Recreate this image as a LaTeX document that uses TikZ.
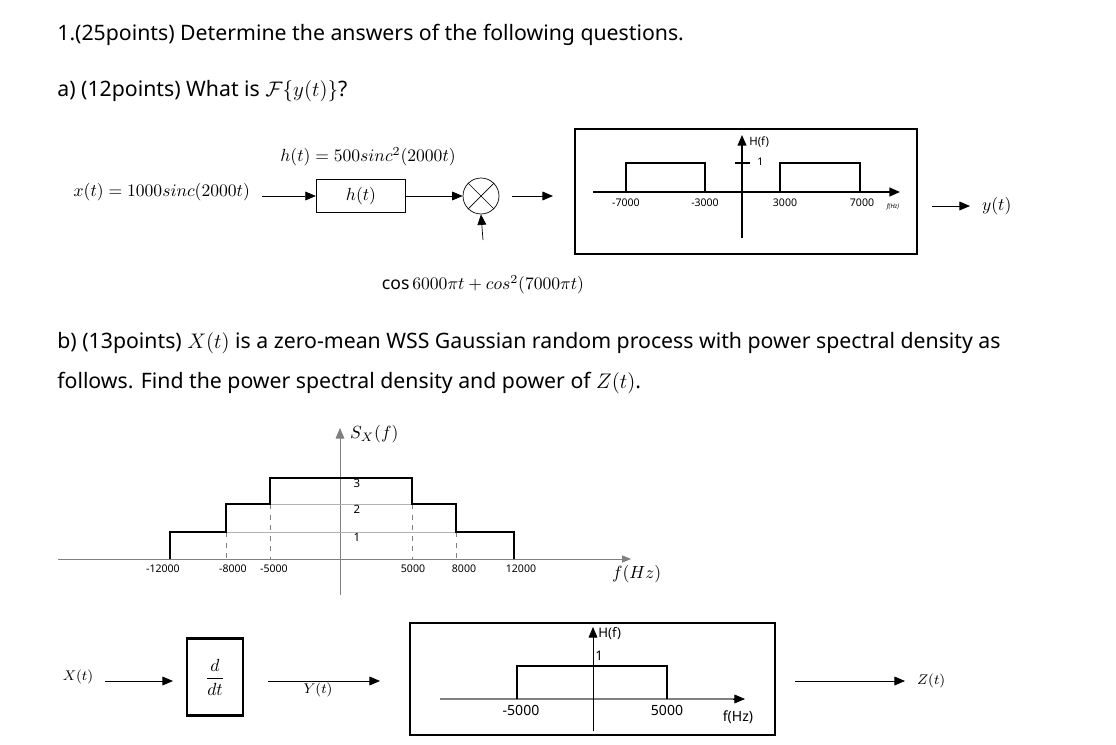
\documentclass[tikz,border=0pt]{standalone}
\usepackage{fontspec}
\usepackage{amsmath}
\setmainfont{Noto Sans}
\usetikzlibrary{arrows.meta}
\begin{document}
\begin{tikzpicture}[x=0.02cm,y=-0.02cm,
  txt/.style = {anchor=west, inner sep=0pt, font=\fontsize{12.1}{15}\selectfont},
  lbl/.style = {inner sep=0pt, font=\fontsize{6}{7}\selectfont},
  sig/.style = {inner sep=1pt, font=\fontsize{10}{12}\selectfont},
  flow/.style = {draw, -{Triangle[length=6pt,width=5pt]}},
  frame/.style = {draw, line width=0.9pt},
  >={Triangle[length=6pt,width=5pt]},
]
  \useasboundingbox (0,0) rectangle (1116,744);

  % questions
  \node[txt] (q1) at (57,35) {1.(25points) Determine the answers of the following questions.};
  \node[txt] (qa) at (57,91) {a) (12points) What is $\mathcal{F}\{y(t)\}$?};
  \node[txt] (qb1) at (57,343) {b) (13points) $X(t)$ is a zero-mean WSS Gaussian random process with power spectral density as};
  \node[txt] (qb2) at (57,383) {follows. Find the power spectral density and power of $Z(t)$.};

  % part a: system
  \node[sig, anchor=east] (xin) at (252,192) {$x(t)=1000sinc(2000t)$};
  \node[draw, line width=0.8pt, minimum width=1.78cm, minimum height=0.66cm, sig] (hbox) at (361,196) {$h(t)$};
  \node[sig] (hdef) at (368,157) {$h(t)=500sinc^2(2000t)$};
  \node[draw, circle, minimum size=0.72cm, inner sep=0pt] (mix) at (481,196) {};
  \draw (mix.north west) -- (mix.south east) (mix.north east) -- (mix.south west);
  \coordinate (a0) at (262,196);
  \coordinate (a1) at (512,196);
  \coordinate (a2) at (553,196);
  \coordinate (c0) at (483,240);
  \node[sig] (cosin) at (483,285) {$\cos6000\pi t+cos^2(7000\pi t)$};
  \draw[flow] (a0) -- (hbox.west);
  \draw[flow] (hbox.east) -- (mix.west);
  \draw[flow] (a1) -- (a2);
  \draw[flow] (c0) -- (mix.south);

  % filter H(f), part a
  \draw[frame] (575,129) rectangle (917,254);
  \draw[->, line width=0.9pt] (593,192) -- (900,192);
  \draw[->, line width=0.8pt] (742,238) -- (742,135);
  \draw[line width=0.8pt] (626,192) |- (705,163) -- (705,192);
  \draw[line width=0.8pt] (780,192) |- (860,163) -- (860,192);
  \draw[line width=1.2pt] (735,163) -- (750,163);
  \node[lbl, anchor=west] (h1) at (757,162) {1};
  \node[lbl, anchor=west, font=\fontsize{6.5}{7}\selectfont\bfseries] (hf1) at (749,142) {H(f)};
  \foreach \xx/\tt in {626/-7000, 705/-3000, 785/3000, 862/7000}
    \node[lbl] at (\xx,203) {\tt};
  \node[lbl, font=\fontsize{3.5}{4}\selectfont\itshape] (fhz1) at (893,207) {f(Hz)};
  \coordinate (b0) at (932,206);
  \coordinate (b1) at (970,206);
  \draw[flow] (b0) -- (b1);
  \node[sig, anchor=west] (yout) at (980,206) {$y(t)$};

  % part b: S_X(f)
  \draw[gray] (58,559) -- (620,559);
  \draw[gray, -{Triangle[length=5pt,width=4pt]}] (620,559) -- (631,559);
  \draw[gray, ->] (340,595) -- (340,428);
  \draw[gray!60] (226,532) -- (456,532) (270,504) -- (412,504);
  \draw[gray, dashed] (226,532) -- (226,559) (270,504) -- (270,559)
                      (412,504) -- (412,559) (456,532) -- (456,559);
  \draw[line width=0.8pt] (170,559) |- (226,532) |- (270,504) |- (412,478)
                          |- (456,504) |- (514,532) -- (514,559);
  \node[sig, anchor=west] (sx) at (348,434) {$S_X(f)$};
  \foreach \yy/\tt in {483/3, 509/2, 537/1}
    \node[lbl, font=\fontsize{6.5}{7}\selectfont\bfseries] at (357,\yy) {\tt};
  \foreach \xx/\tt in {163/-12000, 233/-8000, 274/-5000, 413/5000, 464/8000, 521/12000}
    \node[lbl] at (\xx,569) {\tt};
  \node[sig, anchor=west] (fhz2) at (610,574) {$f(Hz)$};

  % part b: system
  \node[sig, font=\fontsize{8}{9}\selectfont] (xt) at (78,677) {$X(t)$};
  \node[draw, line width=1.5pt, minimum width=1.12cm, minimum height=1.54cm, sig] (diff) at (215,677) {$\dfrac{d}{dt}$};
  \node[sig, font=\fontsize{8}{9}\selectfont] (yt) at (318,690) {$Y(t)$};
  \coordinate (d0) at (105,681);
  \coordinate (d1) at (173,681);
  \coordinate (d2) at (268,681);
  \coordinate (d3) at (380,681);
  \draw[flow] (d0) -- (d1);
  \draw[flow] (d2) -- (d3);

  % filter H(f), part b
  \draw[frame] (410,623) rectangle (775,735);
  \draw[gray, line width=0.8pt] (440,699) -- (735,699);
  \draw[-{Triangle[length=6pt,width=5pt]}] (733,699) -- (745,699);
  \draw[->] (593,731) -- (593,627);
  \draw[line width=0.8pt] (517,699) |- (667,666) -- (667,699);
  \node[lbl, font=\fontsize{7.5}{8}\selectfont, anchor=west] (hf2) at (598,633) {H(f)};
  \node[lbl, font=\fontsize{7.5}{8}\selectfont, anchor=west] (h2) at (595,656) {1};
  \node[lbl, font=\fontsize{8}{9}\selectfont] at (521,710) {-5000};
  \node[lbl, font=\fontsize{8}{9}\selectfont] at (667,710) {5000};
  \node[lbl, font=\fontsize{8}{9}\selectfont] (fhz3) at (738,717) {f(Hz)};
  \coordinate (e0) at (795,681);
  \coordinate (e1) at (905,681);
  \draw[flow] (e0) -- (e1);
  \node[sig, font=\fontsize{8}{9}\selectfont, anchor=west] (zt) at (915,681) {$Z(t)$};
\end{tikzpicture}
\end{document}
